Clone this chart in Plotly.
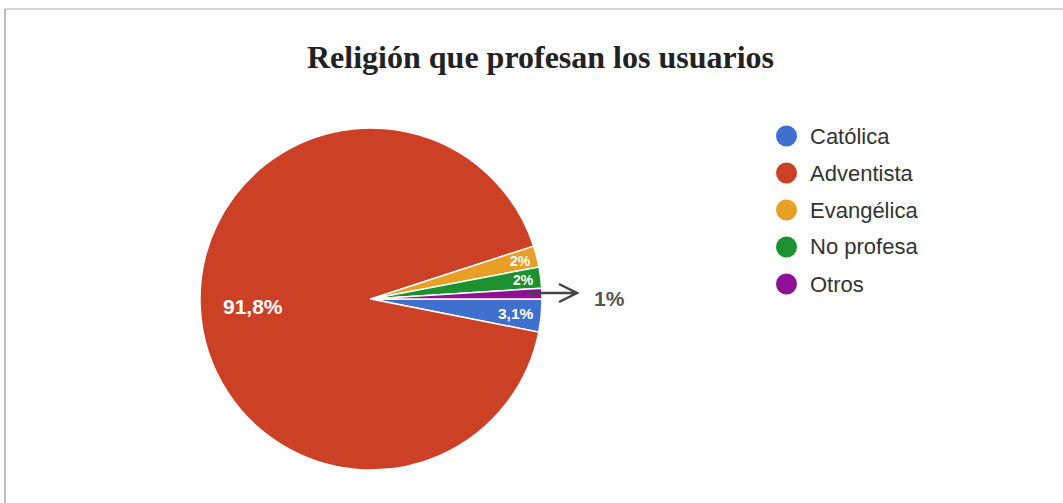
import math
import plotly.graph_objects as go

# Survey answers: religion of the users (percent of respondents)
categories = ["Católica", "Adventista", "Evangélica", "No profesa", "Otros"]
values = [3.1, 91.8, 2, 2, 1]
colors = ["#3f6fcf", "#cc4125", "#e99f26", "#1b9130", "#8f1097"]

W, H = 1063, 503

# pie geometry in pixels
CX, CY, R = 371, 299, 171

# label styling per slice: radial position (fraction of radius) and font size;
# None means the slice is called out with an arrow instead
label_rfrac = [0.85, 0.69, 0.90, 0.90, None]
label_size = [15.5, 21, 14, 14, None]


def fmt(v):
    return f"{v:g}%".replace(".", ",")


def px(x):
    return x / W


def py(y):
    return 1 - y / H


fig = go.Figure(
    go.Pie(
        labels=categories,
        values=values,
        sort=False,
        direction="clockwise",
        rotation=90,
        marker=dict(colors=colors, line=dict(color="white", width=1.5)),
        textinfo="none",
        hoverinfo="label+percent",
        domain=dict(x=[px(CX - R), px(CX + R)], y=[py(CY + R), py(CY - R)]),
        showlegend=False,
    )
)

annotations = [
    dict(text="<b>Religión que profesan los usuarios</b>",
         x=px(540), y=py(57), xref="paper", yref="paper",
         xanchor="center", yanchor="middle", showarrow=False,
         font=dict(family="Times New Roman, Liberation Serif, serif", size=32, color="#222222")),
]
shapes = []

# slice labels: placed along each slice's mid angle (clockwise from 3 o'clock)
total = sum(values)
cum = 0.0
for i, v in enumerate(values):
    mid = (cum + v / 2) / total * 2 * math.pi
    cum += v
    rf = label_rfrac[i]
    if rf is None:
        continue
    lx = CX + rf * R * math.cos(mid)
    ly = CY + rf * R * math.sin(mid)
    annotations.append(dict(text="<b>" + fmt(v) + "</b>", x=px(lx), y=py(ly),
                            xref="paper", yref="paper", xanchor="center", yanchor="middle",
                            showarrow=False,
                            font=dict(family="Arial, Liberation Sans, sans-serif",
                                      size=label_size[i], color="white")))

# callout arrow for the smallest slice
small_idx = label_rfrac.index(None)
ax0, ax1, ay, head = 528, 577, 293, 18
arrow_path = (f"M{px(ax0)},{py(ay)} L{px(ax1)},{py(ay)} "
              f"M{px(ax1 - head)},{py(ay - 9)} L{px(ax1)},{py(ay)} L{px(ax1 - head)},{py(ay + 9)}")
shapes.append(dict(type="path", xref="paper", yref="paper", path=arrow_path,
                   line=dict(color="#444444", width=2.5)))
annotations.append(dict(text="<b>" + fmt(values[small_idx]) + "</b>",
                        x=px(592), y=py(298), xref="paper", yref="paper",
                        xanchor="left", yanchor="middle", showarrow=False,
                        font=dict(family="Arial, Liberation Sans, sans-serif", size=21, color="#555555")))

# legend: coloured dot + name per category
leg_x, leg_y0, leg_dy, r = 786.5, 136, 37, 10.5
for i, (name, c) in enumerate(zip(categories, colors)):
    cy = leg_y0 + i * leg_dy
    shapes.append(dict(type="circle", xref="paper", yref="paper",
                       x0=px(leg_x - r), x1=px(leg_x + r), y0=py(cy + r), y1=py(cy - r),
                       fillcolor=c, line=dict(width=0)))
    annotations.append(dict(text=name, x=px(808), y=py(cy), xref="paper", yref="paper",
                            xanchor="left", yanchor="middle", showarrow=False,
                            font=dict(family="Arial, Liberation Sans, sans-serif", size=22, color="#333333")))

# frame lines along the top and left edges
shapes.append(dict(type="line", xref="paper", yref="paper", x0=px(5), x1=1, y0=py(9), y1=py(9),
                   line=dict(color="#c8c8c8", width=1.5)))
shapes.append(dict(type="line", xref="paper", yref="paper", x0=px(5), x1=px(5), y0=0, y1=py(9),
                   line=dict(color="#a8a8a8", width=1.5)))

fig.update_layout(
    width=W, height=H,
    margin=dict(l=0, r=0, t=0, b=0),
    paper_bgcolor="white", plot_bgcolor="white",
    separators=",.",
    annotations=annotations,
    shapes=shapes,
)

fig.write_html("out.html")
